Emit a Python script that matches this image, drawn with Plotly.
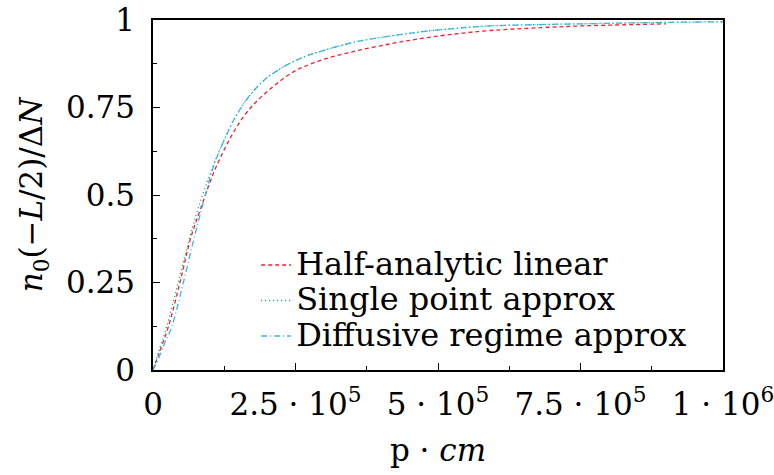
import plotly.graph_objects as go

# x values in units of 1e3 (p*cm / 1000)
half_x = [0, 10, 27, 47, 66, 85, 106, 126, 147, 164, 182, 223, 252, 270, 300, 357, 420, 474, 530, 591, 680, 749, 820, 900]
half_y = [0, 0.045, 0.124, 0.248, 0.376, 0.468, 0.562, 0.633, 0.695, 0.735, 0.768, 0.826, 0.857, 0.870, 0.888, 0.912, 0.933, 0.948, 0.960, 0.970, 0.978, 0.983, 0.986, 0.989]

single_x = [0, 10, 24, 44, 64, 84, 106, 117.5, 141, 164, 193.5, 228.6, 264, 287, 357, 420, 474, 530, 591, 680, 749, 850, 1000]
single_y = [0, 0.052, 0.124, 0.248, 0.376, 0.486, 0.585, 0.630, 0.712, 0.772, 0.826, 0.866, 0.894, 0.907, 0.938, 0.955, 0.967, 0.976, 0.983, 0.987, 0.989, 0.992, 0.995]

diff_x = [0, 9, 20, 33, 53, 72, 89.5, 106, 117.5, 141, 164, 193.5, 228.6, 264, 287, 357, 420, 474, 530, 591, 680, 749, 850, 1000]
diff_y = [0, 0.03, 0.075, 0.124, 0.248, 0.376, 0.486, 0.581, 0.629, 0.712, 0.772, 0.826, 0.866, 0.894, 0.907, 0.938, 0.955, 0.967, 0.976, 0.983, 0.987, 0.989, 0.992, 0.995]

x_tickvals = [0, 250000, 500000, 750000, 1000000]
x_ticktext = ["0", "2.5 · 10<sup>5</sup>", "5 · 10<sup>5</sup>", "7.5 · 10<sup>5</sup>", "1 · 10<sup>6</sup>"]
x_minorvals = [125000, 375000, 625000, 875000]
y_tickvals = [0, 0.25, 0.5, 0.75, 1]
y_ticktext = ["0", "0.25", "0.5", "0.75", "1"]
y_minorvals = [0.125, 0.375, 0.625, 0.875]

names = ["Half-analytic linear", "Single point approx", "Diffusive regime approx"]

FONT = "DejaVu Serif"
TICK_SIZE = 31
LEG_SIZE = 32


def leg(name):
    return '<span style="font-size:%dpx">%s</span>' % (LEG_SIZE, name)


fig = go.Figure()
fig.add_trace(go.Scatter(x=[v * 1000 for v in half_x], y=half_y, mode="lines", name=leg(names[0]),
                         line=dict(color="#ee2233", width=1.3, dash="4px,3px", shape="spline")))
fig.add_trace(go.Scatter(x=[v * 1000 for v in single_x], y=single_y, mode="lines", name=leg(names[1]),
                         line=dict(color="#009e73", width=1.3, dash="1px,3px", shape="spline")))
fig.add_trace(go.Scatter(x=[v * 1000 for v in diff_x], y=diff_y, mode="lines", name=leg(names[2]),
                         line=dict(color="#3bb4e6", width=1.3, dash="6px,3px,1px,3px", shape="spline")))

tick_common = dict(ticks="inside", ticklen=7, tickwidth=1, tickcolor="black",
                   showgrid=False, zeroline=False, automargin=False,
                   tickfont=dict(family=FONT, size=TICK_SIZE, color="black"))

fig.update_layout(
    width=774, height=475,
    margin=dict(l=153, r=51, t=20, b=105),
    paper_bgcolor="white", plot_bgcolor="white",
    font=dict(family=FONT, color="black"),
    showlegend=True,
    legend=dict(x=0.181, y=0.365, xanchor="left", yanchor="top",
                bgcolor="rgba(0,0,0,0)", borderwidth=0,
                font=dict(family=FONT, size=25, color="black"),
                tracegroupgap=0, itemwidth=30),
    xaxis=dict(range=[0, 1000000], tickvals=x_tickvals, ticktext=x_ticktext,
               showline=True, linecolor="black", linewidth=1.5, mirror=True,
               ticklabelstandoff=6, ticklabeloverflow="allow",
               minor=dict(tickmode="array", tickvals=x_minorvals, ticks="inside", ticklen=4,
                          tickcolor="black", showgrid=False),
               title=dict(text="p · <i>cm</i>", font=dict(family=FONT, size=TICK_SIZE), standoff=18),
               **tick_common),
    yaxis=dict(range=[0, 1], tickvals=y_tickvals, ticktext=y_ticktext,
               showline=True, linecolor="black", linewidth=1.5, mirror=True,
               ticklabelstandoff=10,
               minor=dict(tickmode="array", tickvals=y_minorvals, ticks="inside", ticklen=4,
                          tickcolor="black", showgrid=False),
               title=dict(text="<i>n</i><sub>0</sub>(−<i>L</i>/2)/Δ<i>N</i>", font=dict(family=FONT, size=TICK_SIZE), standoff=14),
               **tick_common),
    xaxis2=dict(range=[0, 1000000], overlaying="x", side="top", anchor="y",
                tickvals=x_tickvals, showticklabels=False, showline=False,
                minor=dict(tickmode="array", tickvals=x_minorvals, ticks="inside", ticklen=4,
                           tickcolor="black", showgrid=False),
                **tick_common),
    yaxis2=dict(range=[0, 1], overlaying="y", side="right", anchor="x",
                tickvals=y_tickvals, showticklabels=False, showline=False,
                minor=dict(tickmode="array", tickvals=y_minorvals, ticks="inside", ticklen=4,
                           tickcolor="black", showgrid=False),
                **tick_common),
)

fig.write_html("out.html")
